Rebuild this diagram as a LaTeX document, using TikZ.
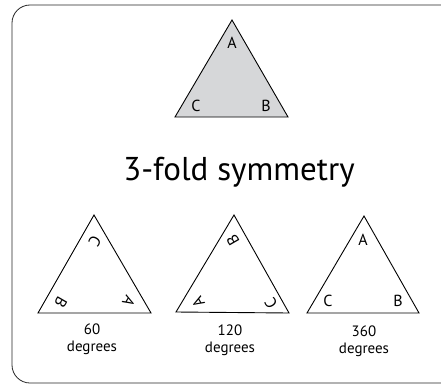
\documentclass[tikz,border=0pt]{standalone}
\usepackage{fontspec}
\setmainfont{PT Sans}
\tikzset{
  tri/.style={draw=black, line width=0.9pt, line join=miter},
  vlab/.style={font=\fontsize{16}{16}\selectfont, inner sep=0pt, anchor=center},
  capt/.style={font=\fontsize{15}{17}\selectfont, align=center, inner sep=0pt},
  frame/.style={draw=black!85, line width=0.8pt, rounded corners=18pt}
}
\begin{document}
\begin{tikzpicture}[x=1pt,y=-1pt]
\useasboundingbox (0,0) rectangle (441,385);
\draw[frame] (12,5) rectangle (460,383);
% top triangle
\coordinate (t0a) at (232,20);
\coordinate (t0c) at (175,117);
\coordinate (t0b) at (288,117);
\draw[tri, fill={rgb,255:red,214;green,215;blue,217}] (t0a) -- (t0b) -- (t0c) -- cycle;
\node[vlab] (l0a) at (232,43) {A};
\node[vlab] (l0c) at (196,106) {C};
\node[vlab] (l0b) at (266,106) {B};
% title
\node[font=\fontsize{33}{33}\selectfont, inner sep=0pt] (title) at (239,172) {3-fold symmetry};
% triangle 1 (60)
\coordinate (t1t) at (94,215);
\coordinate (t1l) at (38,313);
\coordinate (t1r) at (151,313);
\draw[tri] (t1t) -- (t1r) -- (t1l) -- cycle;
\node[vlab, rotate=-120] (l1c) at (95,241) {C};
\node[vlab, rotate=-120] (l1b) at (61,302) {B};
\node[vlab, rotate=-120] (l1a) at (129,301) {A};
\node[capt] (c1) at (92,339) {60\\degrees};
% triangle 2 (120)
\coordinate (t2t) at (234,215);
\coordinate (t2l) at (176,312);
\coordinate (t2r) at (289,313);
\draw[tri] (t2t) -- (t2r) -- (t2l) -- cycle;
\node[vlab, rotate=120] (l2b) at (233,240) {B};
\node[vlab, rotate=120] (l2a) at (198,302) {A};
\node[vlab, rotate=120] (l2c) at (271,303) {C};
\node[capt] (c2) at (230,340) {120\\degrees};
% triangle 3 (360)
\coordinate (t3t) at (364,216);
\coordinate (t3l) at (307,313);
\coordinate (t3r) at (419,313);
\draw[tri] (t3t) -- (t3r) -- (t3l) -- cycle;
\node[vlab] (l3a) at (363,240) {A};
\node[vlab] (l3c) at (328,301) {C};
\node[vlab] (l3b) at (398,301) {B};
\node[capt] (c3) at (364,341) {360\\degrees};
\end{tikzpicture}
\end{document}
